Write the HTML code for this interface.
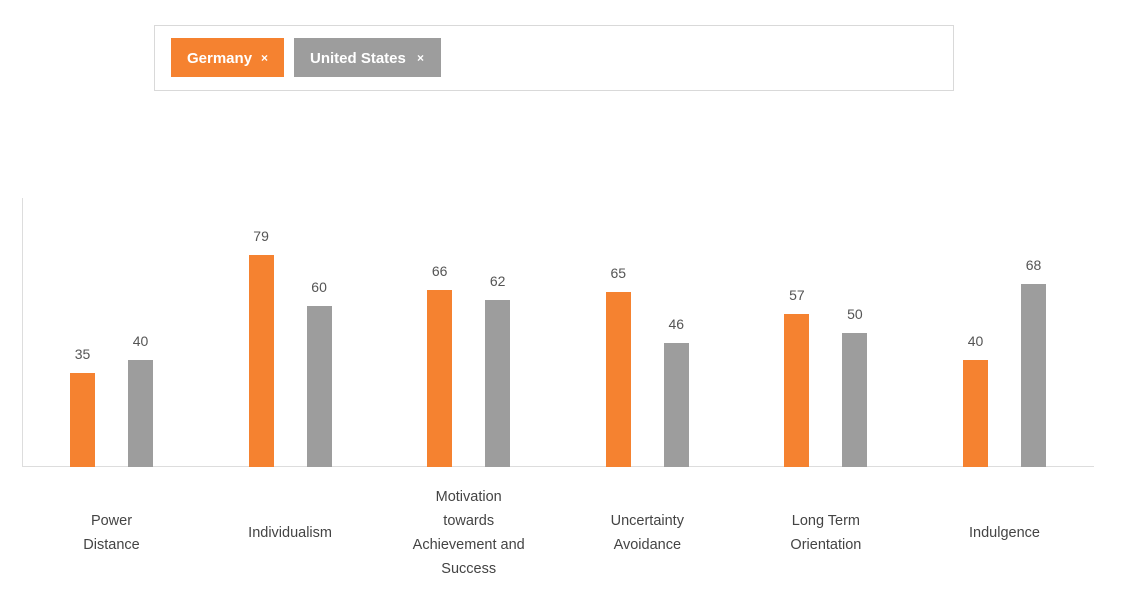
<!DOCTYPE html>
<html><head><style>
body{margin:0;width:1121px;height:591px;background:#fff;position:relative;overflow:hidden;font-family:"Liberation Sans",sans-serif;}
.a{position:absolute}
.btn{position:absolute;top:38px;height:39px;line-height:41px;color:#fff;font-size:15px;font-weight:bold;padding-left:16px;box-sizing:border-box}
.v{position:absolute;width:40px;text-align:center;font-size:14px;color:#555}
.c{position:absolute;width:150px;text-align:center;font-size:14.5px;color:#444;line-height:24px}
</style></head><body>
<div class="a" style="left:154px;top:25px;width:798px;height:64px;border:1px solid #d9d9d9"></div>
<div class="btn" style="left:171px;width:113px;background:#f58230">Germany<span style="position:absolute;left:90px;font-size:12px">×</span></div>
<div class="btn" style="left:294px;width:147px;background:#9d9d9d">United States<span style="position:absolute;left:123px;font-size:12px">×</span></div>
<div class="a" style="left:22px;top:198px;width:1px;height:269px;background:#ddd"></div>
<div class="a" style="left:22px;top:466px;width:1072px;height:1px;background:#ddd"></div>
<div id="ch"></div>
<script>
var d=[[35,40,["Power","Distance"]],[79,60,["Individualism"]],[66,62,["Motivation","towards","Achievement and","Success"]],[65,46,["Uncertainty","Avoidance"]],[57,50,["Long Term","Orientation"]],[40,68,["Indulgence"]]];
var h="";
d.forEach(function(g,i){
 var x=70+178.6*i;
 [[g[0],x,"#f58230"],[g[1],x+58,"#9d9d9d"]].forEach(function(b){
  var ht=b[0]*2.686,t=467-ht;
  h+='<div class="a" style="left:'+b[1]+'px;top:'+t+'px;width:25px;height:'+ht+'px;background:'+b[2]+'"></div>';
  h+='<div class="v" style="left:'+(b[1]-7.5)+'px;top:'+(t-27)+'px">'+b[0]+'</div>';
 });
 var n=g[2].length,top=533-n*12;
 h+='<div class="c" style="left:'+(x+41.5-75)+'px;top:'+top+'px">'+g[2].join("<br>")+'</div>';
});
document.getElementById("ch").innerHTML=h;
</script>
</body></html>
